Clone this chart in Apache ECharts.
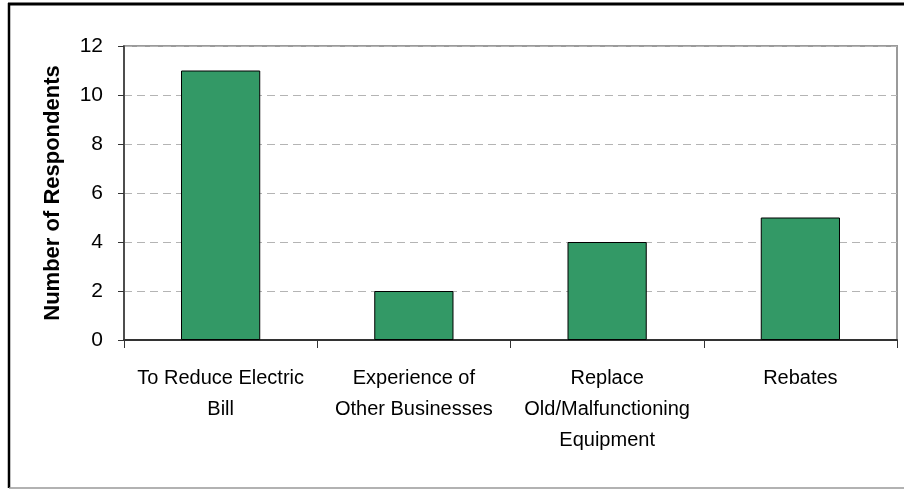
<!DOCTYPE html>
<html>
<head>
<meta charset="utf-8">
<script src="https://cdn.jsdelivr.net/npm/echarts@6/dist/echarts.min.js"></script>
<style>
  html, body { margin: 0; padding: 0; background: #fff; }
  #chart { width: 904px; height: 489px; }
</style>
</head>
<body>
<div id="chart"></div>
<script>
// Reasons given for participating
const categories = [
  'To Reduce Electric\nBill',
  'Experience of\nOther Businesses',
  'Replace\nOld/Malfunctioning\nEquipment',
  'Rebates'
];
const respondents = [11, 2, 4, 5];
const yTicks = { min: 0, max: 12, interval: 2 };
const yTitle = 'Number of Respondents';

const FONT = '"Liberation Sans", Arial, sans-serif';
const chart = echarts.init(document.getElementById('chart'), null, { renderer: 'canvas' });

chart.setOption({
  animation: false,
  backgroundColor: '#fff',
  grid: {
    left: 124, top: 46, right: 7, bottom: 149,
    show: true, borderColor: '#9a9a9a', borderWidth: 2, backgroundColor: '#fff'
  },
  xAxis: {
    type: 'category',
    data: categories,
    axisLine: { lineStyle: { color: '#333', width: 2 } },
    axisTick: { show: true, interval: 0, length: 8, lineStyle: { color: '#333', width: 1 } },
    axisLabel: {
      interval: 0, margin: 23,
      fontFamily: FONT, fontSize: 20, lineHeight: 31, color: '#000', align: 'center'
    },
    splitLine: { show: false }
  },
  yAxis: {
    type: 'value',
    min: yTicks.min, max: yTicks.max, interval: yTicks.interval,
    name: yTitle,
    nameLocation: 'middle',
    nameGap: 60,
    nameTextStyle: { fontFamily: FONT, fontSize: 22, fontWeight: 'bold', color: '#000' },
    axisLine: { show: true, lineStyle: { color: '#333', width: 1.5 } },
    axisTick: { show: true, inside: false, length: 6, lineStyle: { color: '#333', width: 1 } },
    axisLabel: { margin: 21, fontFamily: FONT, fontSize: 21, color: '#000' },
    splitLine: { show: true, lineStyle: { color: '#b4b4b4', type: [8, 5], width: 1 } }
  },
  series: [{
    type: 'bar',
    data: respondents,
    barWidth: '41%',
    itemStyle: { color: '#339966', borderColor: '#000', borderWidth: 1 }
  }],
  graphic: [
    { type: 'line', shape: { x1: 8, y1: 4, x2: 904, y2: 4 }, style: { stroke: '#000', lineWidth: 3 }, z: 100 },
    { type: 'line', shape: { x1: 9, y1: 3, x2: 9, y2: 488 }, style: { stroke: '#000', lineWidth: 2.5 }, z: 100 },
    { type: 'line', shape: { x1: 9, y1: 488, x2: 904, y2: 488 }, style: { stroke: '#999', lineWidth: 1.5 }, z: 100 }
  ]
});
</script>
</body>
</html>
